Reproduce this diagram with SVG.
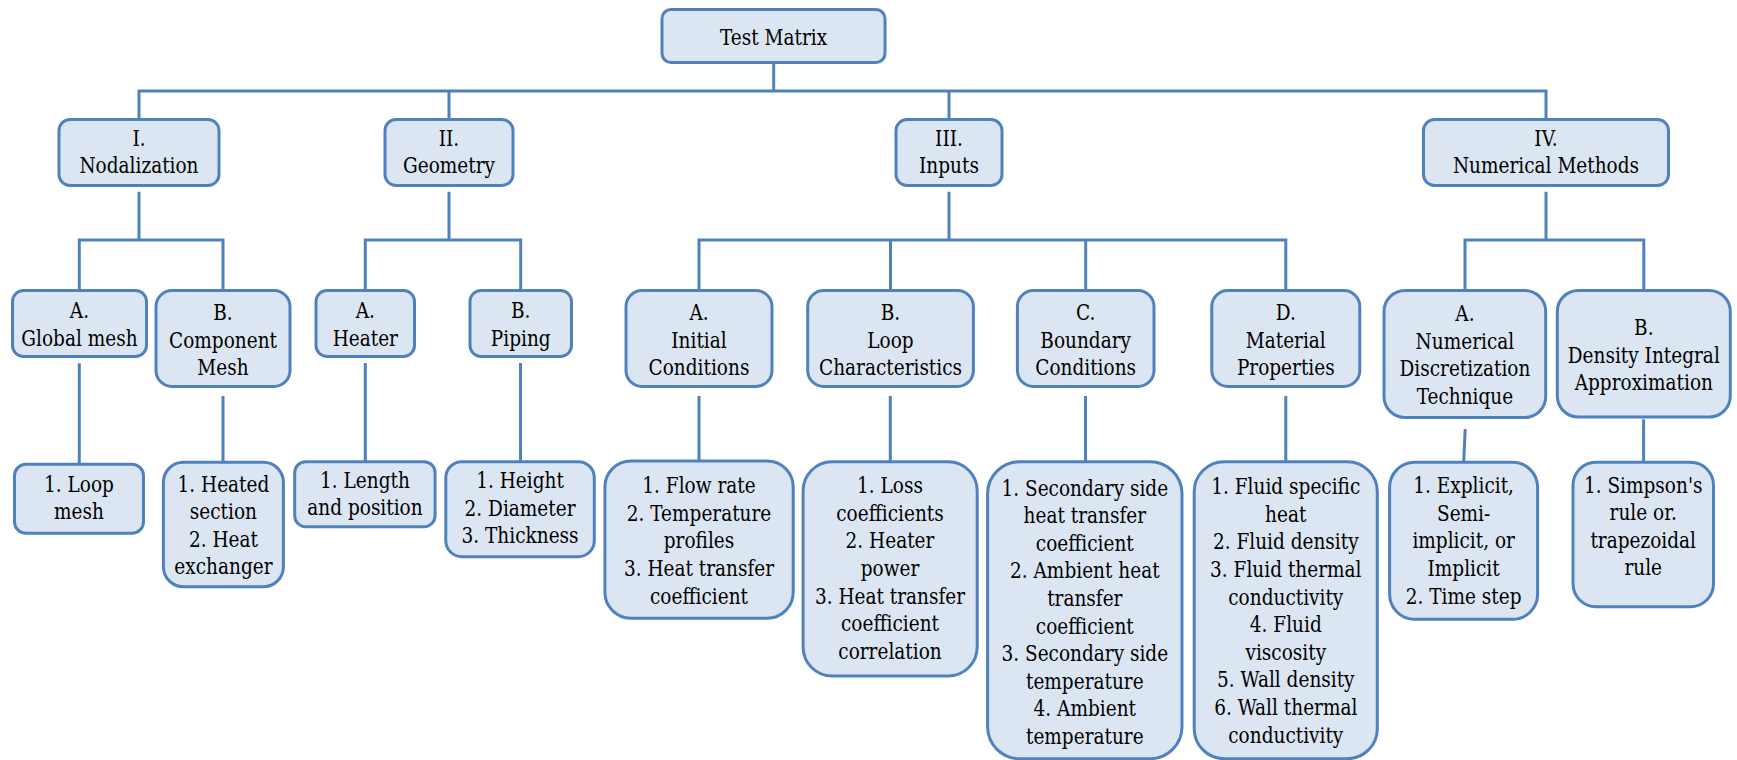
<svg xmlns="http://www.w3.org/2000/svg" width="1737" height="760" viewBox="0 0 1737 760">
<style>
.c{fill:none;stroke:#4F81BD;stroke-width:3}
.b{fill:#DCE6F2;stroke:#4F81BD;stroke-width:3}
.t text{font-family:"DejaVu Serif","Liberation Serif",serif;font-size:21.5px;fill:#000;text-anchor:middle}
</style>
<rect width="1737" height="760" fill="#fff"/>
<g id="connectors">
<path class="c" d="M773.7,62.5 V91"/>
<path class="c" d="M139,119.5 V91 H1546 V119.5 M449,91 V119.5 M949,91 V119.5"/>
<path class="c" d="M139,191.7 V240 M449,191.7 V240 M949,191.7 V240 M1546,191.7 V240"/>
<path class="c" d="M79.3,290.5 V240 H223 V290.5"/>
<path class="c" d="M365.3,290.5 V240 H520.7 V290.5"/>
<path class="c" d="M699,290.5 V240 H1285.8 V290.5 M890.5,240 V290.5 M1085.7,240 V290.5"/>
<path class="c" d="M1465,290.5 V240 H1643.8 V290.5"/>
<path class="c" d="M79.3,363.3 V464.3 M223,396 V462.3 M365.3,363 V461.7 M520.5,363 V461.7 M699,396 V461 M890.3,396 V461.7 M1085.5,396 V461.7 M1285.8,396 V461.7 M1465.2,429 L1463.7,462.3 M1643.6,419.3 V462.3"/>
</g>
<g id="n0"><rect class="b" x="662" y="9.5" width="223" height="53" rx="9"/><g class="t" transform="scale(0.86,1)"><text x="899.4" y="45">Test Matrix</text></g></g>
<g id="n1"><rect class="b" x="59" y="119.5" width="160" height="66" rx="11"/><g class="t" transform="scale(0.86,1)"><text x="161.6" y="146.5">I.</text><text x="161.6" y="173.5">Nodalization</text></g></g>
<g id="n2"><rect class="b" x="385" y="119.5" width="128" height="66" rx="11"/><g class="t" transform="scale(0.86,1)"><text x="522.1" y="146.5">II.</text><text x="522.1" y="173.5">Geometry</text></g></g>
<g id="n3"><rect class="b" x="896" y="119.5" width="106" height="66" rx="11"/><g class="t" transform="scale(0.86,1)"><text x="1103.5" y="146.5">III.</text><text x="1103.5" y="173.5">Inputs</text></g></g>
<g id="n4"><rect class="b" x="1423.5" y="119.5" width="245" height="66" rx="11"/><g class="t" transform="scale(0.86,1)"><text x="1797.7" y="146.5">IV.</text><text x="1797.7" y="173.5">Numerical Methods</text></g></g>
<g id="n1a"><rect class="b" x="12.5" y="290.5" width="134" height="66" rx="11"/><g class="t" transform="scale(0.86,1)"><text x="92.4" y="318.3">A.</text><text x="92.4" y="345.9">Global mesh</text></g></g>
<g id="n1b"><rect class="b" x="156" y="290.5" width="134" height="96" rx="16"/><g class="t" transform="scale(0.86,1)"><text x="259.3" y="320">B.</text><text x="259.3" y="347.6">Component</text><text x="259.3" y="375.2">Mesh</text></g></g>
<g id="n2a"><rect class="b" x="316" y="290.5" width="98.5" height="66" rx="11"/><g class="t" transform="scale(0.86,1)"><text x="424.8" y="318.3">A.</text><text x="424.8" y="345.9">Heater</text></g></g>
<g id="n2b"><rect class="b" x="470" y="290.5" width="101.5" height="66" rx="11"/><g class="t" transform="scale(0.86,1)"><text x="605.5" y="318.3">B.</text><text x="605.5" y="345.9">Piping</text></g></g>
<g id="n3a"><rect class="b" x="626" y="290.5" width="146" height="96" rx="16"/><g class="t" transform="scale(0.86,1)"><text x="812.8" y="320">A.</text><text x="812.8" y="347.6">Initial</text><text x="812.8" y="375.2">Conditions</text></g></g>
<g id="n3b"><rect class="b" x="807.7" y="290.5" width="165.7" height="96" rx="16"/><g class="t" transform="scale(0.86,1)"><text x="1035.5" y="320">B.</text><text x="1035.5" y="347.6">Loop</text><text x="1035.5" y="375.2">Characteristics</text></g></g>
<g id="n3c"><rect class="b" x="1017.4" y="290.5" width="136.6" height="96" rx="16"/><g class="t" transform="scale(0.86,1)"><text x="1262.4" y="320">C.</text><text x="1262.4" y="347.6">Boundary</text><text x="1262.4" y="375.2">Conditions</text></g></g>
<g id="n3d"><rect class="b" x="1211.8" y="290.5" width="148" height="96" rx="16"/><g class="t" transform="scale(0.86,1)"><text x="1495.1" y="320">D.</text><text x="1495.1" y="347.6">Material</text><text x="1495.1" y="375.2">Properties</text></g></g>
<g id="n4a"><rect class="b" x="1384" y="290.5" width="161.7" height="127" rx="21"/><g class="t" transform="scale(0.86,1)"><text x="1703.4" y="321">A.</text><text x="1703.4" y="348.6">Numerical</text><text x="1703.4" y="376.2">Discretization</text><text x="1703.4" y="403.8">Technique</text></g></g>
<g id="n4b"><rect class="b" x="1557.3" y="290.5" width="173" height="126.5" rx="21"/><g class="t" transform="scale(0.86,1)"><text x="1911.4" y="335">B.</text><text x="1911.4" y="362.6">Density Integral</text><text x="1911.4" y="390.2">Approximation</text></g></g>
<g id="n1a1"><rect class="b" x="14.5" y="464.3" width="129" height="69" rx="11.5"/><g class="t" transform="scale(0.86,1)"><text x="91.9" y="491.7">1. Loop</text><text x="91.9" y="519">mesh</text></g></g>
<g id="n1b1"><rect class="b" x="163.4" y="462.3" width="120" height="124.4" rx="20"/><g class="t" transform="scale(0.86,1)"><text x="259.8" y="491.7">1. Heated</text><text x="259.8" y="519.3">section</text><text x="259.8" y="546.9">2. Heat</text><text x="259.8" y="574.5">exchanger</text></g></g>
<g id="n2a1"><rect class="b" x="294.7" y="461.7" width="140.4" height="65" rx="11"/><g class="t" transform="scale(0.86,1)"><text x="424.4" y="488.3">1. Length</text><text x="424.4" y="515.5">and position</text></g></g>
<g id="n2b1"><rect class="b" x="445.8" y="461.7" width="148.5" height="95" rx="16"/><g class="t" transform="scale(0.86,1)"><text x="604.7" y="488.3">1. Height</text><text x="604.7" y="515.9">2. Diameter</text><text x="604.7" y="543.5">3. Thickness</text></g></g>
<g id="n3a1"><rect class="b" x="604.9" y="461" width="188.3" height="157.3" rx="26"/><g class="t" transform="scale(0.86,1)"><text x="812.8" y="493.3">1. Flow rate</text><text x="812.8" y="520.9">2. Temperature</text><text x="812.8" y="548.5">profiles</text><text x="812.8" y="576.1">3. Heat transfer</text><text x="812.8" y="603.7">coefficient</text></g></g>
<g id="n3b1"><rect class="b" x="803.1" y="461.7" width="174.1" height="214.3" rx="29"/><g class="t" transform="scale(0.86,1)"><text x="1034.9" y="493.3">1. Loss</text><text x="1034.9" y="520.9">coefficients</text><text x="1034.9" y="548.5">2. Heater</text><text x="1034.9" y="576.1">power</text><text x="1034.9" y="603.7">3. Heat transfer</text><text x="1034.9" y="631.3">coefficient</text><text x="1034.9" y="658.9">correlation</text></g></g>
<g id="n3c1"><rect class="b" x="987.6" y="461.7" width="194.4" height="297" rx="32"/><g class="t" transform="scale(0.86,1)"><text x="1261.4" y="495.7">1. Secondary side</text><text x="1261.4" y="523.3">heat transfer</text><text x="1261.4" y="550.9">coefficient</text><text x="1261.4" y="578.5">2. Ambient heat</text><text x="1261.4" y="606.1">transfer</text><text x="1261.4" y="633.7">coefficient</text><text x="1261.4" y="661.3">3. Secondary side</text><text x="1261.4" y="688.9">temperature</text><text x="1261.4" y="716.5">4. Ambient</text><text x="1261.4" y="744.1">temperature</text></g></g>
<g id="n3d1"><rect class="b" x="1194.2" y="461.7" width="183.1" height="297" rx="30"/><g class="t" transform="scale(0.86,1)"><text x="1495.1" y="494.3">1. Fluid specific</text><text x="1495.1" y="521.9">heat</text><text x="1495.1" y="549.5">2. Fluid density</text><text x="1495.1" y="577.1">3. Fluid thermal</text><text x="1495.1" y="604.7">conductivity</text><text x="1495.1" y="632.3">4. Fluid</text><text x="1495.1" y="659.9">viscosity</text><text x="1495.1" y="687.5">5. Wall density</text><text x="1495.1" y="715.1">6. Wall thermal</text><text x="1495.1" y="742.7">conductivity</text></g></g>
<g id="n4a1"><rect class="b" x="1389.6" y="462.3" width="148" height="157" rx="25"/><g class="t" transform="scale(0.86,1)"><text x="1701.9" y="493.3">1. Explicit,</text><text x="1701.9" y="520.9">Semi-</text><text x="1701.9" y="548.5">implicit, or</text><text x="1701.9" y="576.1">Implicit</text><text x="1701.9" y="603.7">2. Time step</text></g></g>
<g id="n4b1"><rect class="b" x="1573" y="462.3" width="140.5" height="144.4" rx="23"/><g class="t" transform="scale(0.86,1)"><text x="1910.7" y="492.7">1. Simpson's</text><text x="1910.7" y="520.3">rule or.</text><text x="1910.7" y="547.9">trapezoidal</text><text x="1910.7" y="575.5">rule</text></g></g>
</svg>
